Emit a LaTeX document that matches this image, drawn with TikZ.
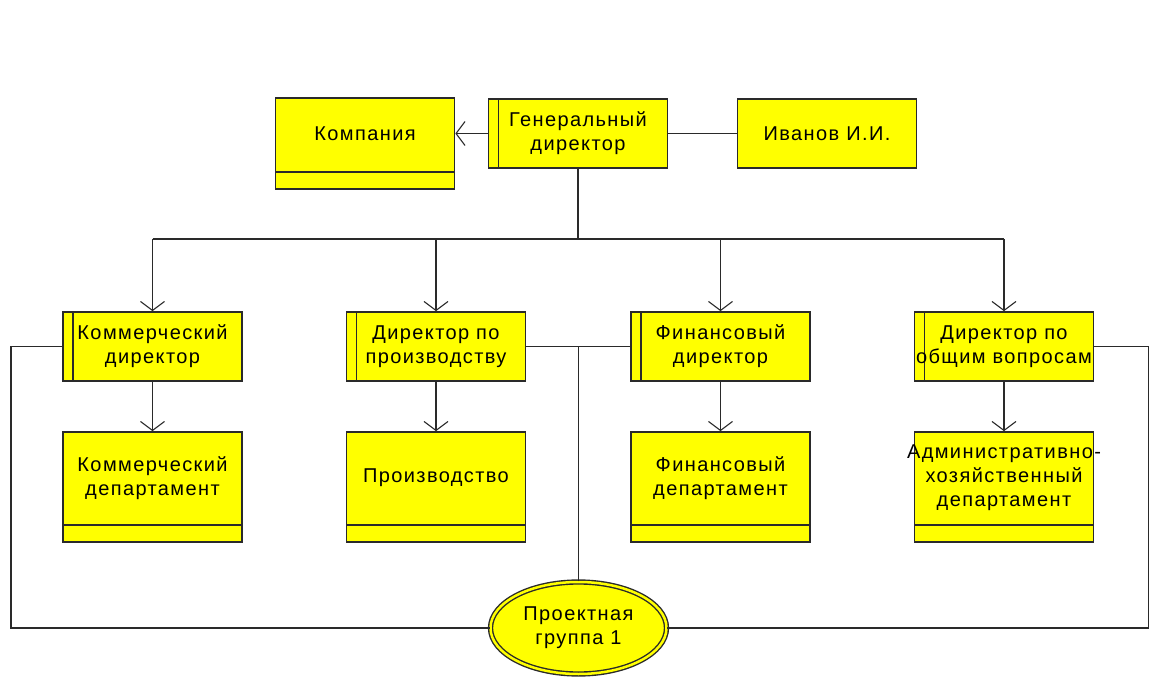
\documentclass[tikz,border=0pt]{standalone}
\usepackage{fontspec}
\setmainfont{Liberation Sans}[LetterSpace=7]
\usetikzlibrary{arrows.meta,shapes.geometric}
\definecolor{boxfill}{HTML}{FFFF00}
\definecolor{edge}{HTML}{2A2A2A}
\begin{document}
\begin{tikzpicture}[x=1pt,y=-1pt,
  font=\fontsize{20}{24}\selectfont,
  line width=1.5pt,draw=edge,
  orgbox/.style={rectangle,fill=boxfill,draw=edge,line width=1.7pt,
    minimum width=179pt,inner sep=0pt,align=center,text=black},
  label/.style={align=center,text=black,inner sep=0pt},
  director/.style={orgbox,minimum height=69pt,
    path picture={\draw[line width=1.7pt,draw=edge]
      ([xshift=10pt]path picture bounding box.north west) --
      ([xshift=10pt]path picture bounding box.south west);}},
  dept/.style={orgbox,
    path picture={\draw[line width=1.7pt,draw=edge]
      ([yshift=17pt]path picture bounding box.south west) --
      ([yshift=17pt]path picture bounding box.south east);}},
  plain/.style={orgbox,minimum height=69pt},
  link/.style={-{Straight Barb[length=9pt,width=24pt,line width=1.1pt]}},
  group/.style={ellipse,fill=boxfill,draw=edge,line width=1.4pt,
    double=boxfill,double distance=2.5pt,minimum width=176pt,
    minimum height=92pt,inner sep=0pt,align=center,text=black}]

\useasboundingbox[fill=white] (0,0) rectangle (1152,682);

% top row
\node[director] (gen) at (578,133.5) {Генеральный\\директор};
\node[dept,minimum height=91pt] (comp) at (365,143.5) {};
\node[label] at (365,134) {Компания};
\node[plain] (ivan) at (827,133.5) {Иванов И.И.};

% directors
\node[director] (kd) at (152.5,346.5) {Коммерческий\\директор};
\node[director] (pd) at (436,346.5) {Директор по\\производству};
\node[director] (fd) at (720.5,346.5) {Финансовый\\директор};
\node[director] (od) at (1004,346.5) {Директор по\\общим вопросам};

% departments
\node[dept,minimum height=110pt] (kdep) at (152.5,487) {};
\node[label] at (152.5,478) {Коммерческий\\департамент};
\node[dept,minimum height=110pt] (pdep) at (436,487) {};
\node[label] at (436,478) {Производство};
\node[dept,minimum height=110pt] (fdep) at (720.5,487) {};
\node[label] at (720.5,478) {Финансовый\\департамент};
\node[dept,minimum height=110pt] (odep) at (1004,487) {};
\node[label] at (1004,478) {Административно-\\хозяйственный\\департамент};

% project group
\node[group] (pg) at (578.5,628) {Проектная\\группа 1};

% connectors at the top
\draw[link] (gen.west) -- (comp.east |- gen.west);
\draw (gen.east) -- (ivan.west);

% distribution bus
\draw (gen.south) -- ++(0,70) coordinate (bus);
\draw (kd.north |- bus) -- (od.north |- bus);
\foreach \d in {kd,pd,fd,od}
  \draw[link] (\d.north |- bus) -- (\d.north);

% directors to departments
\draw[link] (kd.south) -- (kdep.north);
\draw[link] (pd.south) -- (pdep.north);
\draw[link] (fd.south) -- (fdep.north);
\draw[link] (od.south) -- (odep.north);

% project group membership
\draw (kd.west) -- ++(-51,0) |- (pg.west);
\draw (od.east) -- ++(54,0) |- (pg.east);
\draw (pd.east) -- (fd.west);
\draw (pg.north) -- (pg.north |- pd.east);
\end{tikzpicture}
\end{document}
